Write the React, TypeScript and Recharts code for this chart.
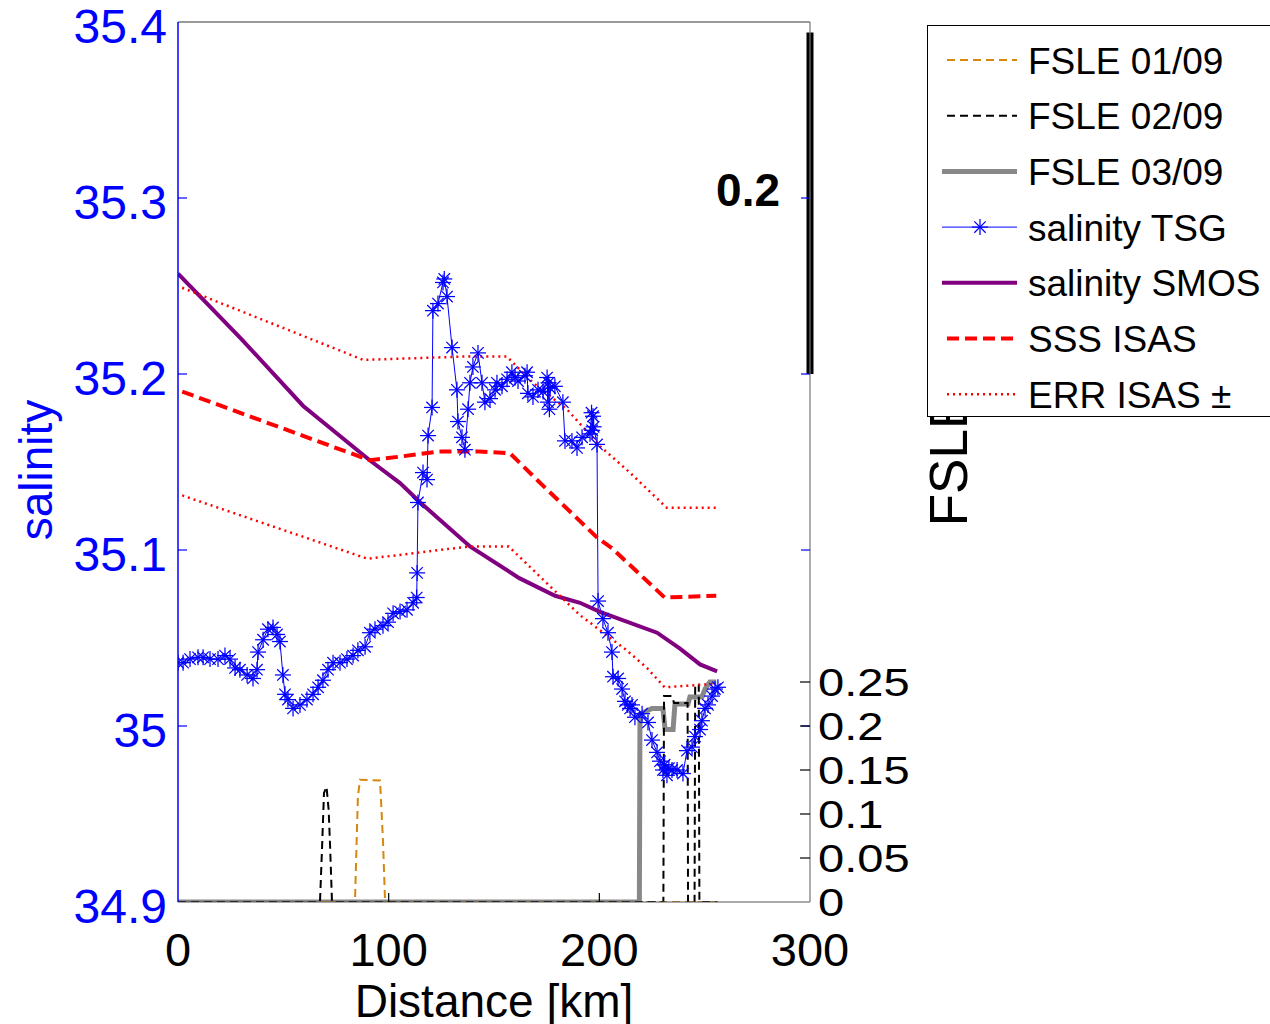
import React from "react";
import { ComposedChart, Line, XAxis, YAxis, ReferenceLine } from "recharts";

// ---------- data ----------
const X_TICKS = [0, 100, 200, 300];
const SAL_TICKS = [34.9, 35, 35.1, 35.2, 35.3, 35.4];
const FSLE_TICKS = [0, 0.05, 0.1, 0.15, 0.2, 0.25];

const TSG_KM = [
  0.0, 2.4, 5.7, 9.5, 11.9, 15.2, 19.0, 22.3, 24.7, 27.1, 29.4, 32.8, 35.6, 37.5, 38.0, 40.4, 42.7, 45.1, 47.0, 48.4,
  49.8, 50.8, 52.2, 54.6, 57.9, 61.2, 64.1, 66.5, 68.8, 71.2, 73.6, 76.9, 80.2, 83.1, 85.4, 88.8, 91.1, 93.5, 97.3, 99.7,
  102.1, 105.4, 108.7, 111.6, 113.3, 113.5, 113.9, 116.3, 118.2, 118.7, 120.6, 121.0, 123.4, 125.8, 126.4, 127.7, 130.1,
  132.4, 132.9, 134.8, 136.2, 137.7, 138.6, 140.0, 142.4, 144.3, 145.7, 148.1, 150.5, 151.4, 153.8, 156.2, 158.5, 160.0,
  161.4, 164.7, 165.7, 166.1, 168.5, 170.9, 173.3, 175.2, 175.6, 175.9, 176.3, 176.6, 178.9, 182.7, 183.7, 187.0, 189.4,
  191.8, 195.6, 196.3, 196.6, 197.0, 197.3, 198.9, 199.4, 201.7, 204.1, 206.0, 206.5, 208.9, 210.8, 212.2, 213.5, 214.6,
  215.5, 216.9, 220.3, 223.1, 225.0, 227.4, 228.8, 230.2, 231.0, 232.1, 233.0, 234.5, 236.9, 239.7, 241.6, 244.0, 245.4,
  247.8, 248.7, 250.2, 251.6, 253.5, 254.9, 256.3,
];
const TSG_SAL = [
  35.036, 35.036, 35.038, 35.039, 35.039, 35.038, 35.038, 35.04, 35.038, 35.033, 35.032, 35.029, 35.027, 35.032, 35.042,
  35.049, 35.055, 35.056, 35.052, 35.048, 35.029, 35.018, 35.015, 35.01, 35.012, 35.015, 35.018, 35.022, 35.026, 35.032,
  35.036, 35.036, 35.038, 35.04, 35.043, 35.045, 35.053, 35.055, 35.057, 35.059, 35.064, 35.065, 35.066, 35.07, 35.073,
  35.087, 35.127, 35.144, 35.14, 35.165, 35.181, 35.236, 35.24, 35.252, 35.254, 35.244, 35.215, 35.191, 35.173, 35.164,
  35.157, 35.18, 35.195, 35.204, 35.212, 35.195, 35.184, 35.186, 35.191, 35.195, 35.193, 35.197, 35.201, 35.198, 35.196,
  35.199, 35.201, 35.189, 35.187, 35.191, 35.19, 35.198, 35.184, 35.195, 35.18, 35.192, 35.193, 35.184, 35.162, 35.162,
  35.158, 35.164, 35.166, 35.178, 35.168, 35.176, 35.17, 35.16, 35.071, 35.061, 35.053, 35.042, 35.028, 35.027, 35.021,
  35.014, 35.012, 35.01, 35.012, 35.005, 35.007, 35.002, 34.992, 34.985, 34.98, 34.975, 34.978, 34.972, 34.976, 34.975,
  34.975, 34.973, 34.986, 34.988, 34.994, 34.998, 35.003, 35.01, 35.012, 35.017, 35.021, 35.022,
];

const SMOS_KM = [0, 30, 59.3, 91, 105.4, 115, 138.6, 162, 179, 190.8, 200, 227.4, 238.3, 247.8, 255.9];
const SMOS_SAL = [35.257, 35.22, 35.182, 35.151, 35.138, 35.127, 35.102, 35.084, 35.074, 35.07, 35.065, 35.053, 35.044, 35.035, 35.031];

const ISAS_KM = [2, 91, 105, 124, 143, 157.6, 172, 199, 206, 231, 255.5];
const ISAS_SAL = [35.19, 35.151, 35.153, 35.156, 35.156, 35.155, 35.138, 35.107, 35.101, 35.073, 35.074];

const ERR_UP_KM = [2, 88, 138, 156, 168.5, 184.6, 200.3, 214.5, 232, 255.5];
const ERR_UP_SAL = [35.249, 35.208, 35.21, 35.21, 35.195, 35.18, 35.159, 35.144, 35.124, 35.124];
const ERR_LO_KM = [2, 90, 138, 157, 190.8, 213, 222.6, 231, 255.5];
const ERR_LO_SAL = [35.131, 35.095, 35.102, 35.102, 35.063, 35.043, 35.033, 35.022, 35.024];

const F1_KM = [0, 84, 85.4, 86.4, 95.9, 97.3, 98.3, 256];
const F1_VAL = [0, 0, 0.12, 0.139, 0.138, 0.07, 0, 0];
const F2_KM = [0, 67.4, 68.4, 69.3, 70.5, 71.5, 72.2, 73.1, 230.4, 230.7, 234.5, 235.5, 241.9, 242.1, 245.2, 245.5, 247.2, 247.5, 256];
const F2_VAL = [0, 0, 0.063, 0.124, 0.131, 0.105, 0.063, 0, 0, 0.234, 0.234, 0.226, 0.226, 0, 0, 0.247, 0.247, 0, 0];
const F3_KM = [0, 219, 219.3, 225, 230.2, 231.2, 235, 235.9, 242.1, 243, 248.7, 250.2, 252.5, 255.5];
const F3_VAL = [0, 0, 0.2135, 0.22, 0.22, 0.196, 0.196, 0.225, 0.225, 0.233, 0.233, 0.242, 0.25, 0.25];

const SCALE_BAR = [35.2, 35.394];
const SCALE_LABEL = "0.2";

const zip = (xs: number[], ys: number[]) => xs.map((x, i) => ({ x, y: ys[i] }));

// ---------- style ----------
const FONT = "'Liberation Sans', Arial, Helvetica, sans-serif";
const BLUE = "#0000ff";
const PURPLE = "#800080";
const RED = "#ff0000";
const ORANGE = "#d4880e";
const GRAY = "#888888";
const PL = 178;
const PR = 810;
const PB = 902;

function Star(props: any) {
  const { cx, cy, index } = props;
  if (cx == null || cy == null) return <g key={`s${index}`} />;
  const r = 8;
  const d = 5.7;
  return (
    <g key={`s${index}`} stroke={BLUE} strokeWidth={1.25}>
      <line x1={cx - r} y1={cy} x2={cx + r} y2={cy} />
      <line x1={cx} y1={cy - r} x2={cx} y2={cy + r} />
      <line x1={cx - d} y1={cy - d} x2={cx + d} y2={cy + d} />
      <line x1={cx - d} y1={cy + d} x2={cx + d} y2={cy - d} />
    </g>
  );
}

function LeftTick(props: any) {
  const { x, y, payload } = props;
  const v = payload.value;
  const inner = v > 34.95 && v < 35.35;
  return (
    <g>
      {inner && <line x1={PL} x2={PL + 9} y1={y} y2={y} stroke={BLUE} strokeWidth={1.2} />}
      {inner && <line x1={PR - 9} x2={PR} y1={y} y2={y} stroke={BLUE} strokeWidth={1.2} />}
      <text x={x} y={y} dy={21} textAnchor="end" fill={BLUE} fontSize={48} fontFamily={FONT}>
        {String(v)}
      </text>
    </g>
  );
}

function RightTick(props: any) {
  const { x, y, payload } = props;
  const v = payload.value;
  return (
    <g>
      {v > 0 && <line x1={PR - 10} x2={PR} y1={y} y2={y} stroke="#000" strokeWidth={1.2} />}
      <text
        x={0}
        y={0}
        transform={`translate(${x} ${y + 14}) scale(1.24 1)`}
        textAnchor="start"
        fill="#000"
        fontSize={38}
        fontFamily={FONT}
      >
        {String(v)}
      </text>
    </g>
  );
}

function BottomTick(props: any) {
  const { x, y, payload } = props;
  const v = payload.value;
  return (
    <g>
      {v > 0 && v < 300 && <line x1={x} x2={x} y1={PB} y2={PB - 9} stroke="#000" strokeWidth={1.2} />}
      <text x={x} y={y + 64} textAnchor="middle" fill="#000" fontSize={47} fontFamily={FONT}>
        {String(v)}
      </text>
    </g>
  );
}

const legendItems = [
  { label: "FSLE 01/09", kind: "f1" },
  { label: "FSLE 02/09", kind: "f2" },
  { label: "FSLE 03/09", kind: "f3" },
  { label: "salinity TSG", kind: "tsg" },
  { label: "salinity SMOS", kind: "smos" },
  { label: "SSS ISAS", kind: "sss" },
  { label: "ERR ISAS \u00b1", kind: "err" },
];

function LegendSample({ kind, y }: { kind: string; y: number }) {
  switch (kind) {
    case "f1":
      return <line x1={20} x2={90} y1={y} y2={y} stroke={ORANGE} strokeWidth={2} strokeDasharray="8 5" />;
    case "f2":
      return <line x1={20} x2={90} y1={y} y2={y} stroke="#000" strokeWidth={2} strokeDasharray="8 5" />;
    case "f3":
      return <line x1={15} x2={90} y1={y} y2={y} stroke={GRAY} strokeWidth={5} />;
    case "tsg":
      return (
        <g>
          <line x1={15} x2={90} y1={y} y2={y} stroke={BLUE} strokeWidth={1} />
          <Star cx={53} cy={y} index={999} />
        </g>
      );
    case "smos":
      return <line x1={15} x2={90} y1={y} y2={y} stroke={PURPLE} strokeWidth={4} />;
    case "sss":
      return <line x1={20} x2={90} y1={y} y2={y} stroke={RED} strokeWidth={4} strokeDasharray="12 6" />;
    default:
      return <line x1={20} x2={90} y1={y} y2={y} stroke={RED} strokeWidth={2.5} strokeDasharray="2 4" />;
  }
}

export default function App() {
  const tsg = zip(TSG_KM, TSG_SAL);
  const smos = zip(SMOS_KM, SMOS_SAL);
  const isas = zip(ISAS_KM, ISAS_SAL);
  const errUp = zip(ERR_UP_KM, ERR_UP_SAL);
  const errLo = zip(ERR_LO_KM, ERR_LO_SAL);
  const f1 = zip(F1_KM, F1_VAL);
  const f2 = zip(F2_KM, F2_VAL);
  const f3 = zip(F3_KM, F3_VAL);

  return (
    <div style={{ position: "absolute", left: 0, top: 0, width: 1270, height: 1024, overflow: "hidden", background: "#fff" }}>
      <ComposedChart width={1270} height={1024} margin={{ top: 22, right: 184, bottom: 0, left: 0 }}>
        <XAxis
          type="number"
          dataKey="x"
          domain={[0, 300]}
          ticks={X_TICKS}
          allowDataOverflow
          height={122}
          tickSize={0}
          tickMargin={0}
          tickLine={false}
          axisLine={{ stroke: "#555", strokeWidth: 1.2 }}
          tick={<BottomTick />}
          interval={0}
          label={(p: any) => {
            const vb = p.viewBox || { x: PL, y: PB, width: PR - PL };
            return (
              <text x={vb.x + vb.width / 2} y={vb.y + 115} textAnchor="middle" fontSize={46} fontFamily={FONT} fill="#000">
                Distance [km]
              </text>
            );
          }}
        />
        <YAxis
          yAxisId="left"
          orientation="left"
          type="number"
          domain={[34.9, 35.4]}
          ticks={SAL_TICKS}
          allowDataOverflow
          width={178}
          tickSize={0}
          tickMargin={11}
          tickLine={false}
          interval={0}
          axisLine={{ stroke: BLUE, strokeWidth: 1.5 }}
          tick={<LeftTick />}
          label={(p: any) => {
            const vb = p.viewBox || { x: 0, y: 22, height: 880 };
            const cx = vb.x + 52;
            const cy = vb.y + vb.height / 2 + 8;
            return (
              <text x={cx} y={cy} transform={`rotate(-90 ${cx} ${cy})`} textAnchor="middle" fontSize={46} fontFamily={FONT} fill={BLUE}>
                salinity
              </text>
            );
          }}
        />
        <YAxis
          yAxisId="fsle"
          orientation="right"
          type="number"
          domain={[0, 1]}
          ticks={FSLE_TICKS}
          allowDataOverflow
          width={276}
          tickSize={0}
          tickMargin={8}
          tickLine={false}
          interval={0}
          axisLine={{ stroke: "#777", strokeWidth: 1.2 }}
          tick={<RightTick />}
          label={(p: any) => {
            const vb = p.viewBox || { x: PR, y: 22, height: 880 };
            const cx = vb.x + 157;
            const cy = vb.y + vb.height / 2 - 2;
            return (
              <text x={cx} y={cy} transform={`rotate(-90 ${cx} ${cy})`} textAnchor="middle" fontSize={53} fontFamily={FONT} fill="#000">
                FSLE
              </text>
            );
          }}
        />
        <ReferenceLine yAxisId="left" y={35.4} stroke="#777" strokeWidth={1.5} />

        <Line yAxisId="fsle" data={f3} dataKey="y" type="linear" stroke={GRAY} strokeWidth={5} dot={false} isAnimationActive={false} />
        <Line yAxisId="fsle" data={f1} dataKey="y" type="linear" stroke={ORANGE} strokeWidth={2} strokeDasharray="8 5" dot={false} isAnimationActive={false} />
        <Line yAxisId="fsle" data={f2} dataKey="y" type="linear" stroke="#000" strokeWidth={2} strokeDasharray="8 5" dot={false} isAnimationActive={false} />
        <Line yAxisId="left" data={tsg} dataKey="y" type="linear" stroke={BLUE} strokeWidth={1} dot={(p: any) => <Star {...p} key={`st${p.index}`} />} isAnimationActive={false} />
        <Line yAxisId="left" data={smos} dataKey="y" type="linear" stroke={PURPLE} strokeWidth={4} dot={false} isAnimationActive={false} />
        <Line yAxisId="left" data={isas} dataKey="y" type="linear" stroke={RED} strokeWidth={4} strokeDasharray="12 6" dot={false} isAnimationActive={false} />
        <Line yAxisId="left" data={errUp} dataKey="y" type="linear" stroke={RED} strokeWidth={2.5} strokeDasharray="2 4" dot={false} isAnimationActive={false} />
        <Line yAxisId="left" data={errLo} dataKey="y" type="linear" stroke={RED} strokeWidth={2.5} strokeDasharray="2 4" dot={false} isAnimationActive={false} />

        <ReferenceLine
          yAxisId="left"
          segment={[{ x: 300, y: SCALE_BAR[0] }, { x: 300, y: SCALE_BAR[1] }]}
          stroke="#000"
          strokeWidth={7}
          label={(p: any) => {
            const vb = p.viewBox || { x: PR, y: 32, height: 340 };
            return (
              <text x={vb.x - 30} y={vb.y + vb.height / 2 + 3} textAnchor="end" fontSize={46} fontWeight="bold" fontFamily={FONT} fill="#000">
                {SCALE_LABEL}
              </text>
            );
          }}
        />
      </ComposedChart>
      <div
        style={{
          position: "absolute",
          left: 927,
          top: 25,
          width: 350,
          height: 392,
          border: "1.5px solid #000",
          background: "#fff",
          boxSizing: "border-box",
        }}
      >
        <svg width={350} height={392} style={{ position: "absolute", left: -1, top: -1 }}>
          {legendItems.map((it, i) => {
            const cy = 35 + i * 55.7;
            return (
              <g key={it.label}>
                <LegendSample kind={it.kind} y={cy} />
                <text x={101} y={cy + 13.5} fontSize={37} fontFamily={FONT} fill="#000">
                  {it.label}
                </text>
              </g>
            );
          })}
        </svg>
      </div>
    </div>
  );
}
